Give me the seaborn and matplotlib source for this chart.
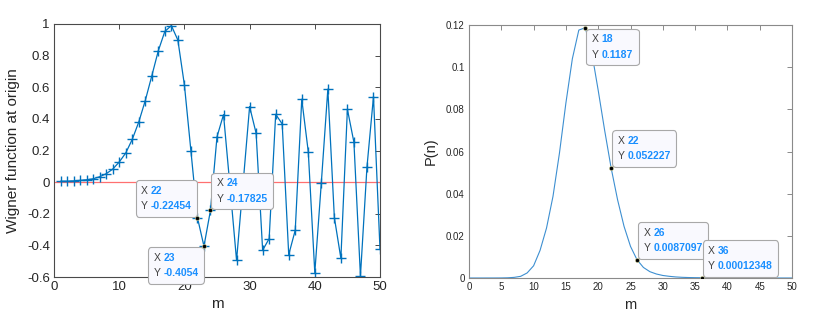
import numpy as np
import pandas as pd
import matplotlib
matplotlib.use("Agg")
import matplotlib.pyplot as plt
import seaborn as sns
from matplotlib.offsetbox import TextArea, HPacker, VPacker, AnnotationBbox

# Wigner function at origin, m = 1..50
m_vals = list(range(1, 51))
wigner = [0.006, 0.006, 0.008, 0.011, 0.015, 0.021, 0.034, 0.053, 0.082, 0.127,
          0.184, 0.270, 0.380, 0.516, 0.672, 0.831, 0.953, 0.990, 0.898, 0.615,
          0.197, -0.22454, -0.4054, -0.17825, 0.287, 0.427, -0.03, -0.495, -0.01, 0.478,
          0.309, -0.431, -0.357, 0.429, 0.368, -0.459, -0.304, 0.524, 0.192, -0.573,
          -0.004, 0.588, -0.224, -0.482, 0.461, 0.252, -0.594, 0.095, 0.541, -0.425]

# photon number distribution, n = 0..50
n_vals = list(range(0, 51))
pn = [0, 0, 0, 0.000005, 0.00001, 0.00003, 0.0001, 0.0003, 0.0008, 0.0024,
      0.0058, 0.0131, 0.0237, 0.0387, 0.0592, 0.083, 0.104, 0.1176, 0.1187, 0.107,
      0.089, 0.070, 0.052227, 0.0371, 0.0245, 0.015, 0.0087097, 0.0050, 0.0030, 0.0019,
      0.0012, 0.0008, 0.0005, 0.00032, 0.00022, 0.00016, 0.00012348, 0.00009, 0.00006, 0.00004,
      0.00003, 0.00002, 0.000015, 0.00001, 0.000007, 0.000005, 0.000003, 0.000002, 0.000001, 0.000001,
      0.0]

left_tips = [22, 23, 24]
right_tips = [18, 22, 26, 36]
right_labels = {18: "0.1187", 22: "0.052227", 26: "0.0087097", 36: "0.00012348"}

sns.set_style("white")
plt.rcParams['font.family'] = ['Liberation Sans', 'DejaVu Sans']

blue = '#0072BD'
tipblue = '#1a8fff'

fig = plt.figure(figsize=(8.31, 3.17), dpi=100)
W, H = 831, 317
ax1 = fig.add_axes([54 / W, 1 - 277 / H, 326 / W, 253 / H])
ax2 = fig.add_axes([469 / W, 1 - 278 / H, 323 / W, 253 / H])

df1 = pd.DataFrame({'m': m_vals, 'W': wigner})
df2 = pd.DataFrame({'n': n_vals, 'P': pn})

ax1.axhline(0, color='#ff7070', lw=0.9, zorder=1)
sns.lineplot(data=df1, x='m', y='W', ax=ax1, color=blue, lw=0.9, marker='+',
             markersize=6.5, markeredgewidth=1.0, markeredgecolor=blue, zorder=2)
sns.lineplot(data=df2, x='n', y='P', ax=ax2, color='#3d8fd1', lw=0.8, zorder=2)


def datatip(ax, x, y, ylab, align, off):
    fs = 7.5
    xs = TextArea("X ", textprops=dict(color='#404040', fontsize=fs))
    xv = TextArea(str(x), textprops=dict(color=tipblue, fontsize=fs, fontweight='bold'))
    ys = TextArea("Y ", textprops=dict(color='#404040', fontsize=fs))
    yv = TextArea(ylab, textprops=dict(color=tipblue, fontsize=fs, fontweight='bold'))
    box = VPacker(children=[HPacker(children=[xs, xv], pad=0, sep=0),
                            HPacker(children=[ys, yv], pad=0, sep=0)],
                  pad=4, sep=4, align='left')
    ab = AnnotationBbox(box, (x, y), xybox=off, boxcoords='offset pixels',
                        box_alignment=align, pad=0, frameon=True,
                        bboxprops=dict(boxstyle='round,pad=0,rounding_size=0.25',
                                       facecolor='#f9f9fe', edgecolor='#a8a8a8', lw=0.8),
                        zorder=5)
    ax.add_artist(ab)
    ax.plot([x], [y], 'o', ms=3, color='black', mec='#d8d8a0', mew=0.4, zorder=6)


lpos = {22: ((1, 0), (0, 1)), 23: ((1, 1), (0, -1)), 24: ((0, 0), (1, 1))}
for m in left_tips:
    val = wigner[m_vals.index(m)]
    datatip(ax1, m, val, f"{val:g}", *lpos[m])

rpos = {18: ((0, 1), (1, -1)), 22: ((0, 0), (1, 1)), 26: ((0, 0), (1, 1)), 36: ((0, 0), (1, 1))}
for n in right_tips:
    datatip(ax2, n, pn[n_vals.index(n)], right_labels[n], *rpos[n])

ax1.set_xlim(0, 50)
ax1.set_ylim(-0.6, 1)
ax1.set_xticks(np.arange(0, 51, 10))
ax1.set_yticks(np.round(np.arange(-0.6, 1.01, 0.2), 1))
ax1.set_yticklabels([f"{v:g}" for v in np.round(np.arange(-0.6, 1.01, 0.2), 1)])
ax1.set_xlabel('m', fontsize=11, color='#262626', labelpad=3)
ax1.set_ylabel('Wigner function at origin', fontsize=11, color='#262626', labelpad=5)

ax2.set_xlim(0, 50)
ax2.set_ylim(0, 0.12)
ax2.set_xticks(np.arange(0, 51, 5))
ax2.set_yticks(np.round(np.arange(0, 0.121, 0.02), 2))
ax2.set_yticklabels([f"{v:g}" for v in np.round(np.arange(0, 0.121, 0.02), 2)])
ax2.set_xlabel('m', fontsize=10.5, color='#262626', labelpad=4)
ax2.set_ylabel('P(n)', fontsize=10.5, color='#262626', labelpad=6)

for ax, sc, fs in [(ax1, '#4a4a4a', 9.5), (ax2, '#8a8a8a', 7)]:
    for sp in ax.spines.values():
        sp.set_visible(True)
        sp.set_color(sc)
        sp.set_linewidth(0.8)
    ax.tick_params(direction='in', length=3.5, width=0.7, color=sc,
                   top=True, right=True, labelsize=fs, labelcolor='#262626', pad=3)

fig.savefig('out.png', dpi=100)
